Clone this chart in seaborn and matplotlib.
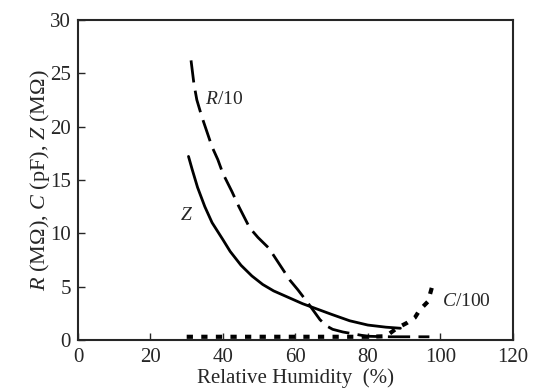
import matplotlib
matplotlib.use("Agg")
import matplotlib.pyplot as plt
import seaborn as sns
import pandas as pd

# curves
z_rh = [30.5, 31.5, 33.0, 35.0, 37.0, 40.0, 42.0, 45.0, 48.0, 51.0, 54.0, 58.0, 62.0, 66.0,
        70.0, 75.0, 80.0, 85.0, 89.0]
z_val = [17.2, 16.0, 14.3, 12.5, 11.0, 9.4, 8.3, 7.0, 6.0, 5.2, 4.6, 4.0, 3.4, 2.9,
         2.4, 1.8, 1.4, 1.2, 1.1]

r_rh = [31.2, 32.0, 32.8, 34.2, 37.0, 38.6, 40.0, 42.5, 44.4, 47.4, 49.7, 52.7, 58.5, 60.7,
        63.4, 66.8, 68.7, 70.3, 73.1, 79.7, 86.0, 97.0]
r_val = [26.2, 24.0, 22.5, 20.9, 18.1, 16.9, 15.6, 13.9, 12.5, 10.5, 9.6, 8.6, 5.6, 4.7,
         3.5, 1.9, 1.3, 1.0, 0.75, 0.35, 0.3, 0.3]

c_rh = [30, 35, 40, 45, 50, 55, 60, 65, 70, 75, 80, 85, 88, 90.8, 93.0, 94.3, 96.6, 98.0]
c_val = [0.3, 0.3, 0.3, 0.3, 0.3, 0.3, 0.3, 0.3, 0.3, 0.3, 0.3, 0.35, 1.1, 1.6, 2.1, 2.8, 3.6, 5.3]

sns.set_style("ticks")
plt.rcParams['font.family'] = ['Liberation Serif', 'DejaVu Serif']
plt.rcParams['mathtext.fontset'] = 'custom'
plt.rcParams['mathtext.rm'] = 'Liberation Serif'
plt.rcParams['mathtext.it'] = 'Liberation Serif:italic'

fig = plt.figure(figsize=(5.38, 3.89), dpi=100)
ax = fig.add_axes([0.145, 0.126, 0.808, 0.823])

z_df = pd.DataFrame({"rh": z_rh, "v": z_val})
r_df = pd.DataFrame({"rh": r_rh, "v": r_val})
c_df = pd.DataFrame({"rh": c_rh, "v": c_val})

sns.lineplot(data=z_df, x="rh", y="v", ax=ax, color="black", lw=2, sort=False, estimator=None)
sns.lineplot(data=r_df, x="rh", y="v", ax=ax, color="black", lw=2, sort=False, estimator=None,
             linestyle=(0, (8, 3)))
sns.lineplot(data=c_df, x="rh", y="v", ax=ax, color="black", lw=3, sort=False, estimator=None,
             linestyle=(0, (1.5, 2)))

ax.text(35.0, 22.5, "$R$/10", fontsize=14, va="center", ha="left")
ax.text(30.0, 11.7, "$Z$", fontsize=14, va="center", ha="center")
ax.text(100.5, 3.6, "$C$/100", fontsize=14, va="center", ha="left")

ax.set_xlim(0, 120)
ax.set_ylim(0, 30)
ax.set_xticks([0, 20, 40, 60, 80, 100, 120])
ax.set_yticks([0, 5, 10, 15, 20, 25, 30])
ax.tick_params(direction="in", length=5, width=1, labelsize=15)
ax.tick_params(axis="x", pad=6)
ax.tick_params(axis="y", pad=5)
ax.set_xlabel("Relative Humidity  (%)", fontsize=15, labelpad=1)
ax.set_ylabel("$R$ (M\u03a9), $C$ (pF), $Z$ (M\u03a9)", fontsize=16, labelpad=-1)
for s in ax.spines.values():
    s.set_linewidth(1.5)

fig.savefig("out.png", dpi=100)
